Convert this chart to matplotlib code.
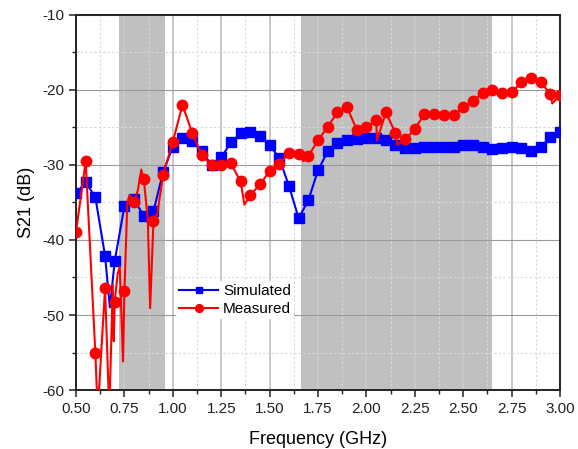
import numpy as np
import matplotlib
matplotlib.use("Agg")
import matplotlib.pyplot as plt
from matplotlib.ticker import MultipleLocator, FormatStrFormatter

plt.rcParams['font.family'] = ['Liberation Sans', 'DejaVu Sans']
plt.rcParams['axes.unicode_minus'] = False

# simulated S21 (markers every 0.05 GHz, extra points only shape the line)
sim_freq = [0.50, 0.55, 0.60, 0.65, 0.675, 0.70, 0.75, 0.80, 0.85, 0.87, 0.90,
            0.95, 1.00, 1.05, 1.10, 1.15, 1.20, 1.25, 1.30, 1.35, 1.40, 1.45,
            1.50, 1.55, 1.60, 1.65, 1.70, 1.75, 1.80, 1.85, 1.90, 1.95, 2.00,
            2.05, 2.10, 2.15, 2.20, 2.25, 2.30, 2.35, 2.40, 2.45, 2.50, 2.55,
            2.60, 2.65, 2.70, 2.75, 2.80, 2.85, 2.90, 2.95, 3.00]
sim_db = [-33.8, -32.3, -34.3, -42.1, -49.0, -42.8, -35.5, -34.6, -36.8, -37.6, -36.2,
          -30.9, -27.6, -26.4, -26.8, -28.2, -30.0, -29.0, -27.0, -25.8, -25.6, -26.1,
          -27.3, -29.1, -32.8, -37.1, -34.7, -30.7, -28.2, -27.1, -26.7, -26.5, -26.4,
          -26.4, -26.7, -27.3, -27.8, -27.8, -27.6, -27.6, -27.6, -27.6, -27.3, -27.3,
          -27.6, -27.9, -27.8, -27.6, -27.8, -28.1, -27.6, -26.3, -25.6]

# measured S21
meas_freq = [0.50, 0.55, 0.60, 0.612, 0.65, 0.672, 0.69, 0.695, 0.70, 0.715, 0.726,
             0.743, 0.75, 0.765, 0.777, 0.80, 0.82, 0.837, 0.85, 0.871, 0.883, 0.90,
             0.92, 0.95, 1.00, 1.05, 1.10, 1.15, 1.20, 1.25, 1.30, 1.35, 1.37,
             1.40, 1.45, 1.50, 1.55, 1.60, 1.65, 1.675, 1.70, 1.75, 1.80, 1.85,
             1.90, 1.95, 1.96, 2.00, 2.05, 2.055, 2.10, 2.15, 2.16, 2.20, 2.25,
             2.30, 2.35, 2.40, 2.45, 2.50, 2.55, 2.60, 2.65, 2.70, 2.75, 2.80,
             2.85, 2.90, 2.95, 2.96, 3.00]
meas_db = [-38.9, -29.5, -55.1, -63.0, -46.4, -63.0, -46.0, -53.5, -48.2, -44.5, -43.6,
           -56.2, -46.8, -35.0, -34.0, -34.9, -33.3, -30.6, -31.9, -37.3, -49.1, -37.5,
           -36.5, -31.3, -26.9, -22.0, -25.7, -28.7, -30.0, -30.0, -29.8, -32.2, -35.3,
           -34.0, -32.6, -30.8, -29.9, -28.4, -28.5, -29.5, -28.8, -26.7, -24.9, -23.0,
           -22.3, -25.3, -26.0, -25.0, -24.0, -26.7, -23.0, -25.7, -27.3, -26.6, -25.2,
           -23.2, -23.2, -23.3, -23.3, -22.3, -21.5, -20.4, -20.0, -20.4, -20.3, -19.0,
           -18.4, -19.0, -20.5, -21.8, -20.7]

bands = [(0.72, 0.96), (1.66, 2.65)]


def on_grid(freq):
    f = np.asarray(freq) * 20
    return np.isclose(f, np.round(f))


fig = plt.figure(figsize=(5.78, 4.49), dpi=100)
ax = fig.add_axes([0.1315, 0.1314, 0.8374, 0.8352])

for lo, hi in bands:
    ax.axvspan(lo, hi, color='#c0c0c0', lw=0, zorder=0.2)

ax.set_axisbelow(True)
ax.grid(True, which='major', axis='x', color='#c8c8c8', lw=1.4)
ax.grid(True, which='major', axis='y', color='#9a9a9a', lw=0.8)
ax.grid(True, which='minor', color='#d8d8d8', lw=0.8, ls=(0, (2, 2)))

ax.plot(sim_freq, sim_db, color='#0000ff', lw=1.5, marker='s', ms=6.5,
        markevery=list(np.flatnonzero(on_grid(sim_freq))), label='Simulated', zorder=3)
ax.plot(meas_freq, meas_db, color='#ff0000', lw=1.5, marker='o', ms=7.5,
        markevery=list(np.flatnonzero(on_grid(meas_freq))), label='Measured', zorder=4)

ax.set_xlim(0.5, 3.0)
ax.set_ylim(-60, -10)
ax.xaxis.set_major_locator(MultipleLocator(0.25))
ax.xaxis.set_minor_locator(MultipleLocator(0.125))
ax.xaxis.set_major_formatter(FormatStrFormatter('%.2f'))
ax.yaxis.set_major_locator(MultipleLocator(10))
ax.yaxis.set_minor_locator(MultipleLocator(5))
ax.tick_params(which='major', direction='out', length=5, width=1.1, labelsize=11, colors='#222222')
ax.tick_params(which='minor', direction='out', length=3, width=1.0, colors='#222222')
for sp in ax.spines.values():
    sp.set_linewidth(1.4)
    sp.set_color('#222222')

ax.set_xlabel('Frequency (GHz)', fontsize=13, labelpad=11)
ax.set_ylabel('S21 (dB)', fontsize=13, labelpad=5)

leg = ax.legend(loc='upper left', bbox_to_anchor=(0.19, 0.31), fontsize=11,
                markerscale=0.75, handlelength=2.6, handletextpad=0.3,
                labelspacing=0.25, borderpad=0.2, frameon=True, fancybox=False,
                framealpha=1.0)
leg.get_frame().set_edgecolor('none')
leg.get_frame().set_facecolor('white')

fig.savefig('out.png', dpi=100)
